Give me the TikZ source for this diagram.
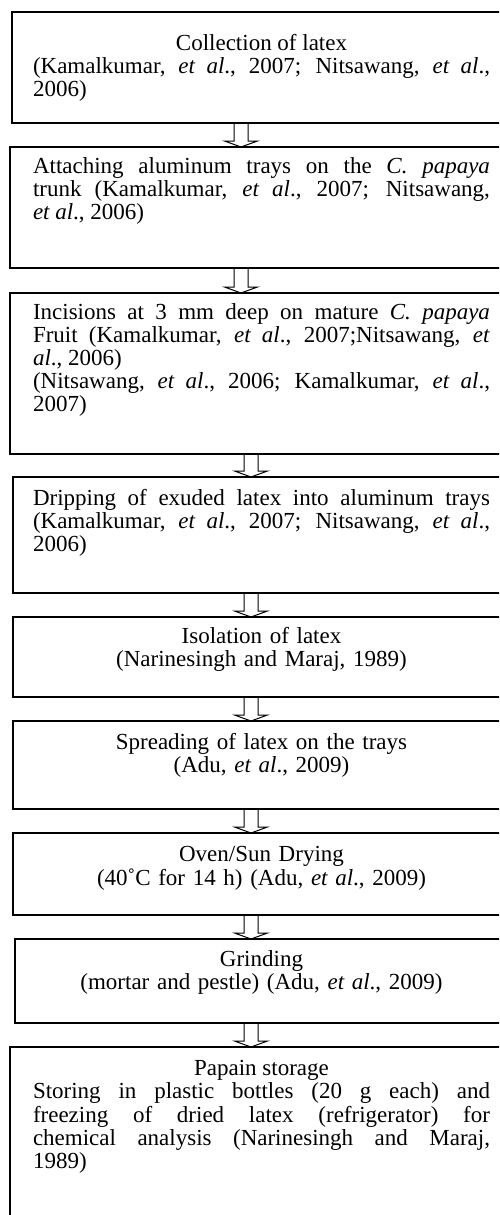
\documentclass[tikz,border=0pt]{standalone}
\usepackage{fontspec}
\setmainfont{Liberation Serif}
\usetikzlibrary{calc}
\tolerance=10000
\hbadness=10000
\tikzset{
  boxst/.style={draw, line width=1.5pt, inner sep=0pt, outer sep=0pt, anchor=north west, minimum height=#1},
  txt/.style={anchor=north west, inner sep=0pt, outer sep=0pt, text width=457pt, align=justify,
    font=\fontsize{23}{23}\selectfont},
  ctxt/.style={txt, align=center},
  arrowst/.style={draw, line width=1pt, line join=miter},
}
\newcommand{\flowarrow}[3]{%
  \draw[arrowst] ($(#1.south -| #3)+(-7,0)$) -- ($(#2.north -| #3)+(-7,-6)$)
    -- ($(#2.north -| #3)+(-16.5,-6)$) -- (#2.north -| #3)
    -- ($(#2.north -| #3)+(16.5,-6)$) -- ($(#2.north -| #3)+(7,-6)$)
    -- ($(#1.south -| #3)+(7,0)$);}
\begin{document}
\begin{tikzpicture}[x=1pt,y=-1pt]
\useasboundingbox (0,0) rectangle (499,1215);
\clip (0,0) rectangle (499,1215);
\fill[white] (0,0) rectangle (499,1215);
\coordinate (A1) at (241,0);
\coordinate (A2) at (251,0);
% boxes
\node[boxst=111pt, minimum width=500pt] (b1) at (12,12) {};
\node[boxst=121pt, minimum width=502pt] (b2) at (10,147) {};
\node[boxst=161pt, minimum width=502pt] (b3) at (10,293) {};
\node[boxst=116pt, minimum width=499pt] (b4) at (13,477) {};
\node[boxst=80pt, minimum width=499pt] (b5) at (13,617) {};
\node[boxst=88pt, minimum width=499pt] (b6) at (13,721) {};
\node[boxst=82pt, minimum width=499pt] (b7) at (13,833) {};
\node[boxst=84pt, minimum width=497pt] (b8) at (15,939) {};
\node[boxst=200pt, minimum width=502pt] (b9) at (10,1047) {};
% texts
\node[txt] (t1) at (33,33.9) {{\centering\strut Collection of latex\par}\strut(Kamalkumar, \textit{et al}., 2007; Nitsawang, \textit{et al}.,\linebreak 2006)};
\node[txt] (t2) at (33,156.9) {\strut Attaching aluminum trays on the \textit{C. papaya}\linebreak trunk (Kamalkumar, \textit{et al}., 2007; Nitsawang,\linebreak \textit{et al}., 2006)};
\node[txt] (t3) at (33,302.9) {\strut Incisions at 3 mm deep on mature \textit{C. papaya}\linebreak Fruit (Kamalkumar, \textit{et al}., 2007;Nitsawang, \textit{et}\linebreak \textit{al}., 2006)\par\strut(Nitsawang, \textit{et al}., 2006; Kamalkumar, \textit{et al}.,\linebreak 2007)};
\node[txt] (t4) at (33,488.9) {\strut Dripping of exuded latex into aluminum trays\linebreak (Kamalkumar, \textit{et al}., 2007; Nitsawang, \textit{et al}.,\linebreak 2006)};
\node[ctxt] (t5) at (33,626.9) {\strut Isolation of latex\\(Narinesingh and Maraj, 1989)};
\node[ctxt] (t6) at (33,732.9) {\strut Spreading of latex on the trays\\(Adu, \textit{et al}., 2009)};
\node[ctxt] (t7) at (33,844.9) {\strut Oven/Sun Drying\\(40˚C for 14 h) (Adu, \textit{et al}., 2009)};
\node[ctxt] (t8) at (33,949.9) {\strut Grinding\\(mortar and pestle) (Adu, \textit{et al}., 2009)};
\node[txt] (t9) at (33,1058.9) {{\centering\strut Papain storage\par}\strut Storing in plastic bottles (20 g each) and\linebreak freezing of dried latex (refrigerator) for\linebreak chemical analysis (Narinesingh and Maraj,\linebreak 1989)};
% arrows
\flowarrow{b1}{b2}{A1}
\flowarrow{b2}{b3}{A1}
\flowarrow{b3}{b4}{A2}
\flowarrow{b4}{b5}{A2}
\flowarrow{b5}{b6}{A2}
\flowarrow{b6}{b7}{A2}
\flowarrow{b7}{b8}{A2}
\flowarrow{b8}{b9}{A2}
\end{tikzpicture}
\end{document}
